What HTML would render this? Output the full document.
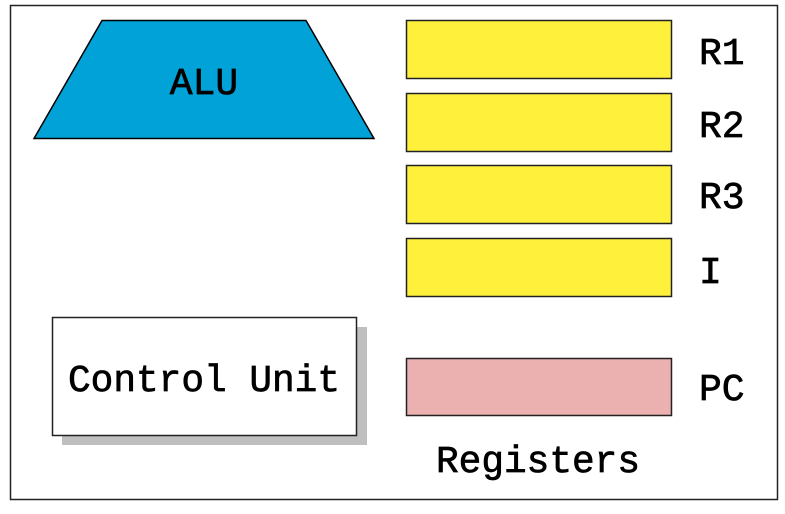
<!DOCTYPE html>
<html><head><meta charset="utf-8"><style>
html,body{margin:0;padding:0;background:#fff;}
svg{display:block;}
text{font-family:"Liberation Mono",monospace;font-size:38px;fill:#000;stroke:#000;stroke-width:0.7px;}
</style></head><body>
<svg width="785" height="514" viewBox="0 0 785 514" xmlns="http://www.w3.org/2000/svg">
<rect x="10.5" y="5.5" width="767" height="494" fill="#fff" stroke="#222" stroke-width="1.5"/>
<polygon points="102,20.5 306,20.5 374,138.5 34,138.5" fill="#00a2d8" stroke="#000" stroke-width="1.5"/>
<text x="204" y="94" text-anchor="middle">ALU</text>
<rect x="62" y="327" width="305" height="118" fill="#bfbfbf"/>
<rect x="52.5" y="317.5" width="304" height="118" fill="#fff" stroke="#222" stroke-width="1.5"/>
<text x="204" y="391" text-anchor="middle" textLength="272" lengthAdjust="spacingAndGlyphs">Control Unit</text>
<g fill="#fff03c" stroke="#222" stroke-width="1.5">
<rect x="406.5" y="20.5" width="265" height="58"/>
<rect x="406.5" y="93.5" width="265" height="58"/>
<rect x="406.5" y="165.5" width="265" height="58"/>
<rect x="406.5" y="238.5" width="265" height="58"/>
<rect x="406.5" y="358.5" width="265" height="57" fill="#ebb0b0"/>
</g>
<text x="699" y="64">R1</text>
<text x="699" y="137">R2</text>
<text x="699" y="208">R3</text>
<text x="699" y="283">I</text>
<text x="699" y="400">PC</text>
<text x="538" y="472" text-anchor="middle" textLength="204" lengthAdjust="spacingAndGlyphs">Registers</text>
</svg>
</body></html>
